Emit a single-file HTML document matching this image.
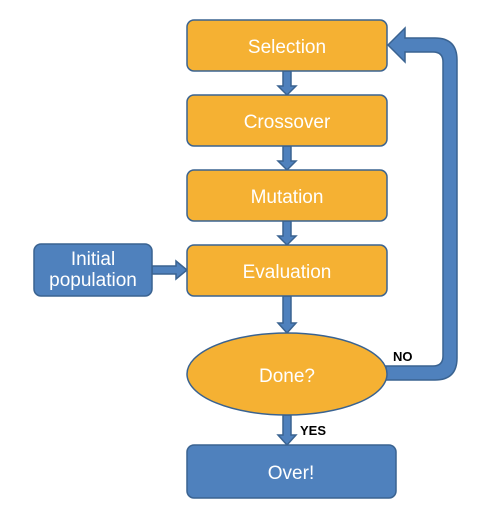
<!DOCTYPE html>
<html><head><style>body{margin:0;background:#fff}</style></head><body>
<svg width="497" height="518" xmlns="http://www.w3.org/2000/svg" font-family="Liberation Sans, sans-serif">
<g fill="#4F81BD" stroke="#3A6391" stroke-width="1.5">
<path d="M386,366 H433 Q443,366 443,356 V62 Q443,52 433,52 H405 V62 L388,45 L405,28 V38 H435 Q457,38 457,60 V358 Q457,380 435,380 H386 Z"/>
<path d="M283,71 h8 v15 h5 l-9,9 l-9,-9 h5 z"/>
<path d="M283,146 h8 v15 h5 l-9,9 l-9,-9 h5 z"/>
<path d="M283,221 h8 v15 h5 l-9,9 l-9,-9 h5 z"/>
<path d="M283,296 h8 v27 h5 l-9,10 l-9,-10 h5 z"/>
<path d="M283,415 h8 v20 h5 l-9,10 l-9,-10 h5 z"/>
<path d="M152,266 h24 v-5 l11,9 l-11,9 v-5 h-24 z"/>
</g>
<g fill="#F5B133" stroke="#3A6391" stroke-width="1.5">
<rect x="187" y="20" width="200" height="51" rx="7"/>
<rect x="187" y="95" width="200" height="51" rx="7"/>
<rect x="187" y="170" width="200" height="51" rx="7"/>
<rect x="187" y="245" width="200" height="51" rx="7"/>
<ellipse cx="287" cy="374" rx="100" ry="41"/>
</g>
<g fill="#4F81BD" stroke="#3A6391" stroke-width="1.5">
<rect x="187" y="445" width="209" height="53" rx="7"/>
<rect x="34" y="244" width="118" height="52" rx="7"/>
</g>
<g fill="#fff" font-size="19" text-anchor="middle">
<text x="287" y="53">Selection</text>
<text x="287" y="128">Crossover</text>
<text x="287" y="203">Mutation</text>
<text x="287" y="278">Evaluation</text>
<text x="287" y="382">Done?</text>
<text x="291" y="479">Over!</text>
<text x="93" y="265">Initial</text>
<text x="93" y="286">population</text>
</g>
<g font-size="13" font-weight="bold" fill="#000">
<text x="393" y="361">NO</text>
<text x="300" y="435">YES</text>
</g>
</svg>
</body></html>
